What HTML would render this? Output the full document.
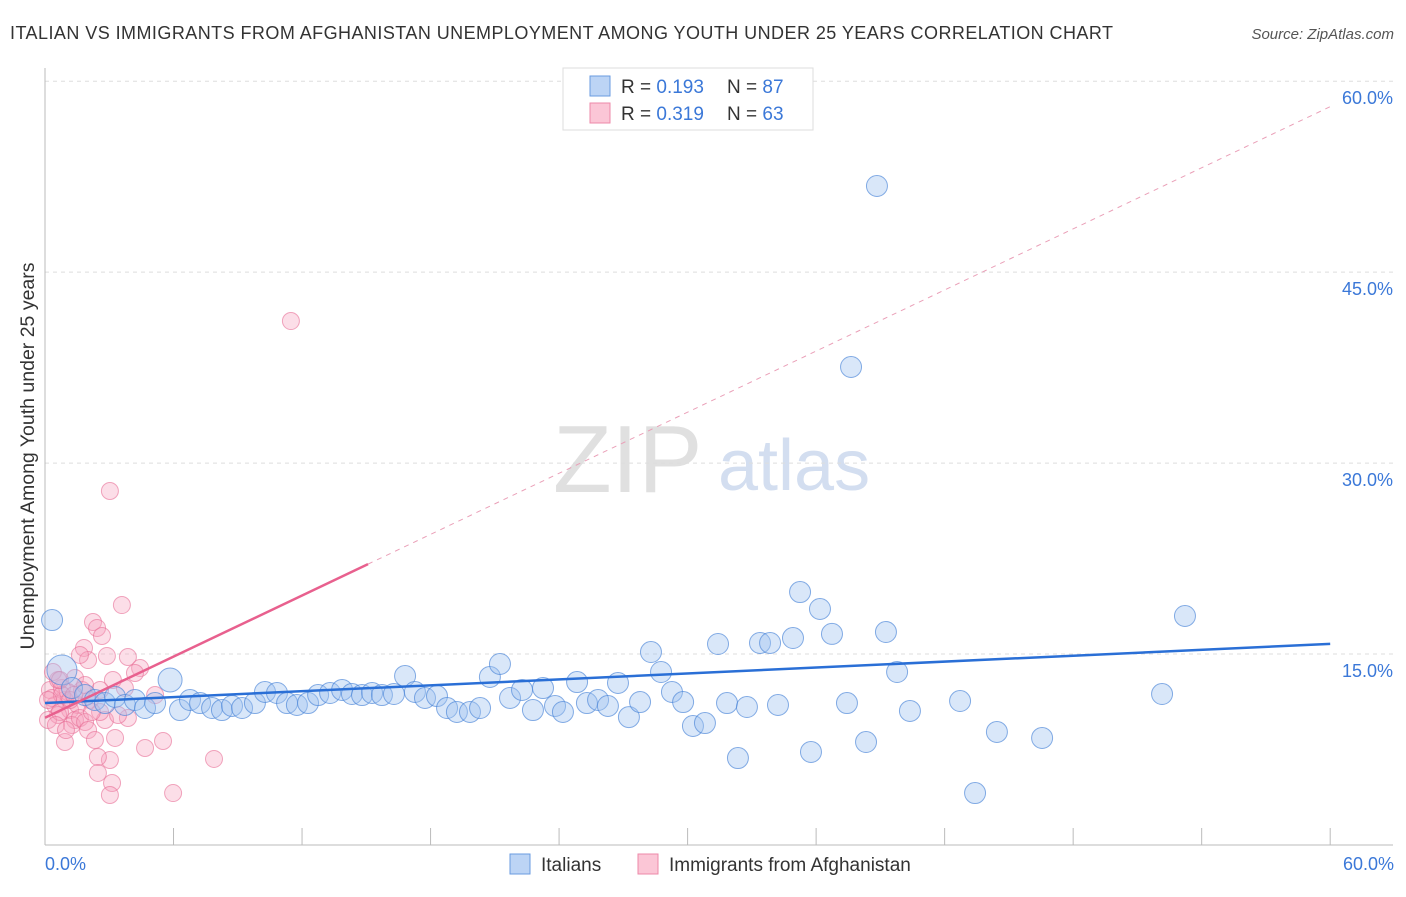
<!DOCTYPE html>
<html><head><meta charset="utf-8"><style>
body{margin:0;background:#fff;font-family:"Liberation Sans",sans-serif}
svg text{font-family:"Liberation Sans",sans-serif}
</style></head><body>
<svg width="1406" height="892" xmlns="http://www.w3.org/2000/svg">
<text x="10" y="39" font-size="18" fill="#333" textLength="1103">ITALIAN VS IMMIGRANTS FROM AFGHANISTAN UNEMPLOYMENT AMONG YOUTH UNDER 25 YEARS CORRELATION CHART</text>
<text x="1394" y="39" font-size="15" fill="#555" font-style="italic" text-anchor="end">Source: ZipAtlas.com</text>
<g>
<text x="553" y="492" font-size="96" fill="#e0e0e0" font-family="Liberation Serif">ZIP</text>
<text x="718" y="490" font-size="72" fill="#d3def0">atlas</text>
</g>
<g id="grid"></g>
<g id="axes"></g>
<g id="pink"></g>
<g id="blue"></g>
<g id="lines"></g>
<text x="34" y="456" font-size="19.5" fill="#333" transform="rotate(-90 34 456)" text-anchor="middle">Unemployment Among Youth under 25 years</text>
<text x="45" y="870" font-size="18" fill="#3b78d8">0.0%</text>
<text x="1394" y="870" font-size="18" fill="#3b78d8" text-anchor="end">60.0%</text>
<g>
<rect x="563" y="68" width="250" height="62" fill="#fff" stroke="#ddd"/>
<rect x="590" y="76" width="20" height="20" fill="#bcd4f5" stroke="#6a9be0"/>
<rect x="590" y="103" width="20" height="20" fill="#fbc6d6" stroke="#ee88a8"/>
<text x="621" y="93" font-size="19" fill="#333">R = <tspan fill="#3b78d8">0.193</tspan></text>
<text x="727" y="93" font-size="19" fill="#333">N = <tspan fill="#3b78d8">87</tspan></text>
<text x="621" y="120" font-size="19" fill="#333">R = <tspan fill="#3b78d8">0.319</tspan></text>
<text x="727" y="120" font-size="19" fill="#333">N = <tspan fill="#3b78d8">63</tspan></text>
</g>
<g>
<rect x="510" y="854" width="20" height="20" fill="#bcd4f5" stroke="#6a9be0"/>
<text x="541" y="871" font-size="19" fill="#333">Italians</text>
<rect x="638" y="854" width="20" height="20" fill="#fbc6d6" stroke="#ee88a8"/>
<text x="669" y="871" font-size="19" fill="#333">Immigrants from Afghanistan</text>
</g>
</svg>
<script>
const yTicks=[15,30,45,60];
const yTickLabels=["15.0%","30.0%","45.0%","60.0%"];
const xTicks=[0,6,12,18,24,30,36,42,48,54,60];
const bluePx=[[52,620],[62,670],[72,688],[85,695],[95,700],[105,703],[115,697],[125,705],[135,700],[145,708],[155,703],[170,680],[180,710],[190,700],[200,703],[212,708],[222,710],[232,706],[242,708],[255,703],[265,692],[277,693],[287,703],[297,705],[308,703],[318,695],[330,693],[342,690],[352,694],[362,695],[372,693],[382,695],[394,694],[405,676],[415,692],[425,698],[437,696],[447,708],[457,712],[470,712],[480,708],[490,677],[500,664],[510,698],[522,690],[533,710],[543,688],[555,706],[563,712],[577,682],[587,703],[598,700],[608,706],[618,683],[629,717],[640,702],[651,652],[661,672],[672,692],[683,702],[693,726],[705,723],[718,644],[727,703],[738,758],[747,707],[760,643],[770,643],[778,705],[793,638],[800,592],[811,752],[820,609],[832,634],[847,703],[851,367],[866,742],[877,186],[886,632],[897,672],[910,711],[960,701],[975,793],[997,732],[1042,738],[1162,694],[1185,616]];
const pinkPx=[[110,491],[291,321],[122,605],[93,622],[97,628],[102,636],[84,648],[88,660],[75,678],[80,655],[107,656],[128,657],[140,668],[135,673],[113,680],[100,690],[125,688],[155,695],[65,700],[70,710],[55,705],[50,690],[58,715],[48,720],[60,712],[52,698],[62,688],[68,692],[78,705],[75,720],[72,725],[80,718],[85,722],[88,730],[65,742],[95,740],[115,738],[145,748],[163,741],[110,760],[98,757],[98,773],[112,783],[110,795],[173,793],[214,759],[128,718],[105,720],[118,715],[58,680],[53,672],[62,695],[70,700],[48,700],[56,725],[66,730],[90,700],[82,690],[74,695],[100,712],[92,712],[60,680],[85,685]];
const italiansX=bluePx.map(p=>+((p[0]-45)/21.42).toFixed(2));
const italiansY=bluePx.map(p=>+((845-p[1])/12.73).toFixed(2));
const afghanX=pinkPx.map(p=>+((p[0]-45)/21.42).toFixed(2));
const afghanY=pinkPx.map(p=>+((845-p[1])/12.73).toFixed(2));
const blueTrend=[11.15,15.8];
const pinkTrend=[10.0,0.8];
const X=v=>45+v*21.42, Y=v=>845-v*12.73;
const NS="http://www.w3.org/2000/svg";
function mk(t,a,parent){const e=document.createElementNS(NS,t);for(const k in a)e.setAttribute(k,a[k]);document.getElementById(parent).appendChild(e);return e;}
yTicks.forEach((t,i)=>{
 const l=mk('line',{x1:45,x2:1393,y1:Y(t),y2:Y(t),stroke:'#ddd','stroke-dasharray':'4,4'},'grid');
 
 
 const tx=mk('text',{x:1393,y:Y(t)+23,'font-size':18,fill:'#3b78d8','text-anchor':'end'},'grid');
 tx.textContent=yTickLabels[i];
 
 
});
const ya=mk('line',{x1:45,x2:45,y1:68,y2:845,stroke:'#bbb'},'axes');


const xa=mk('line',{x1:45,x2:1393,y1:845,y2:845,stroke:'#bbb'},'axes');


xTicks.forEach(t=>{const l=mk('line',{x1:X(t),x2:X(t),y1:828,y2:845,stroke:'#bbb'},'axes');
 
 });
afghanX.forEach((v,i)=>{const c=mk('circle',{cx:X(v),cy:Y(afghanY[i]),r:8.5,fill:'rgba(246,160,190,0.35)',stroke:'rgba(232,110,150,0.6)','stroke-width':1},'pink');
 
 });
italiansX.forEach((v,i)=>{const r=(i==1)?15:(i==11?12:10.5);const c=mk('circle',{cx:X(v),cy:Y(italiansY[i]),r:r,fill:'rgba(160,195,240,0.4)',stroke:'rgba(70,130,215,0.65)','stroke-width':1},'blue');
 
 });
const bl=mk('line',{x1:X(0),y1:Y(blueTrend[0]),x2:X(60),y2:Y(blueTrend[1]),stroke:'#2a6fd6','stroke-width':2.5},'lines');


const pe=15.08;
const pl=mk('line',{x1:X(0),y1:Y(pinkTrend[0]),x2:X(pe),y2:Y(pinkTrend[0]+pinkTrend[1]*pe),stroke:'#e8608e','stroke-width':2.5},'lines');


const pd=mk('line',{x1:X(pe),y1:Y(pinkTrend[0]+pinkTrend[1]*pe),x2:X(60),y2:Y(pinkTrend[0]+pinkTrend[1]*60),stroke:'#eaa0b8','stroke-width':1,'stroke-dasharray':'5,5'},'lines');


</script>
</body></html>
